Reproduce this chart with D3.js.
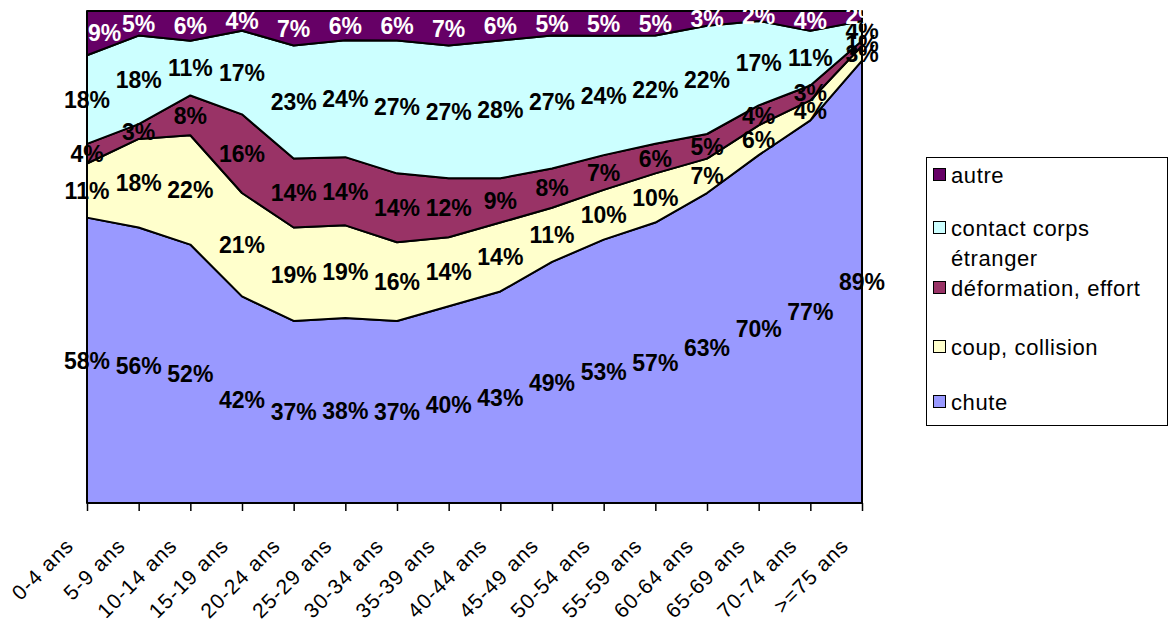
<!DOCTYPE html>
<html><head><meta charset="utf-8">
<script src="https://cdn.jsdelivr.net/npm/d3@7"></script>
<style>body{margin:0;background:#fff}svg{display:block}text{font-family:"Liberation Sans",Arial,sans-serif}</style>
</head><body><svg id="c" width="1170" height="622"></svg>
<script>
const categories = ["0-4 ans","5-9 ans","10-14 ans","15-19 ans","20-24 ans","25-29 ans","30-34 ans","35-39 ans","40-44 ans","45-49 ans","50-54 ans","55-59 ans","60-64 ans","65-69 ans","70-74 ans",">=75 ans"];
const chute       = [58,56,52,42,37,38,37,40,43,49,53,57,63,70,77,89];
const coup        = [11,18,22,21,19,19,16,14,14,11,10,10,7,6,4,3];
const deformation = [4,3,8,16,14,14,14,12,9,8,7,6,5,4,3,1];
const contact     = [18,18,11,17,23,24,27,27,28,27,24,22,22,17,11,4];
const autre       = [9,5,6,4,7,6,6,7,6,5,5,5,3,2,4,2];

const seriesNames = ["chute","coup, collision","déformation, effort","contact corps étranger","autre"];
const seriesVals = [chute, coup, deformation, contact, autre];
const colors = ["#9999FF","#FFFFCC","#993366","#CCFFFF","#660066"];
const labelColors = ["#000","#000","#000","#000","#fff"];

const rows = categories.map((c,i)=>{const r={cat:c}; seriesNames.forEach((s,j)=>r[s]=seriesVals[j][i]); return r;});
const stack = d3.stack().keys(seriesNames).offset(d3.stackOffsetExpand)(rows);

const L=87,R=862,T=11,B=503;
const svg=d3.select("#c");
const x=d3.scalePoint().domain(categories).range([L,R]);
const y=d3.scaleLinear().domain([0,1]).range([B,T]);

const area=d3.area().x(d=>x(d.data.cat)).y0(d=>y(d[0])).y1(d=>y(d[1]));
svg.append("g").selectAll("path").data(stack).join("path")
  .attr("d",area).attr("fill",(d,i)=>colors[i]).attr("stroke","#000").attr("stroke-width",2).attr("stroke-linejoin","round");

// axes
svg.append("line").attr("x1",L).attr("x2",L).attr("y1",T).attr("y2",B).attr("stroke","#000").attr("stroke-width",2);
svg.append("line").attr("x1",R).attr("x2",R).attr("y1",T).attr("y2",B).attr("stroke","#000").attr("stroke-width",2);
const xa=svg.append("g").attr("transform",`translate(0,${B})`).call(d3.axisBottom(x).tickSize(8).tickFormat(""));
xa.select(".domain").attr("stroke","#000").attr("stroke-width",2).attr("d",`M${L},0H${R}`);
xa.selectAll(".tick line").attr("stroke","#000").attr("stroke-width",1.5);
svg.append("g").selectAll("text").data(categories).join("text")
  .attr("transform",d=>`translate(${x(d)-12},${547}) rotate(-45)`)
  .attr("text-anchor","end").attr("font-size",21).attr("letter-spacing",1).attr("fill","#000").text(d=>d);

// data labels
const lg=svg.append("g");
stack.forEach((s,i)=>{
  s.forEach((d,k)=>{
    const txt=seriesVals[i][k]+"%";
    let cx=x(d.data.cat);
    const w=txt.length===2?33:47;
    if(i===4) cx=Math.max(cx,L+w/2+1);
    lg.append("text").attr("x",cx).attr("y",y((d[0]+d[1])/2)).attr("dy","0.36em")
      .attr("text-anchor","middle").attr("font-size",23).attr("font-weight","bold")
      .attr("fill",labelColors[i]).text(txt);
  });
});

// legend
const leg=svg.append("g");
leg.append("rect").attr("x",926.5).attr("y",157.5).attr("width",241).attr("height",268).attr("fill","#fff").attr("stroke","#000").attr("stroke-width",1);
const legItems=[
  {i:4,lines:["autre"],cy:175},
  {i:3,lines:["contact corps","étranger"],cy:228},
  {i:2,lines:["déformation, effort"],cy:288},
  {i:1,lines:["coup, collision"],cy:347},
  {i:0,lines:["chute"],cy:402}
];
legItems.forEach(it=>{
  leg.append("rect").attr("x",933.5).attr("y",it.cy-6.5).attr("width",12).attr("height",12).attr("fill",colors[it.i]).attr("stroke","#000").attr("stroke-width",1);
  it.lines.forEach((ln,j)=>{
    leg.append("text").attr("x",951).attr("y",it.cy+j*30).attr("dy","0.35em").attr("font-size",22).attr("letter-spacing",0.6).attr("fill","#000").text(ln);
  });
});
</script></body></html>
